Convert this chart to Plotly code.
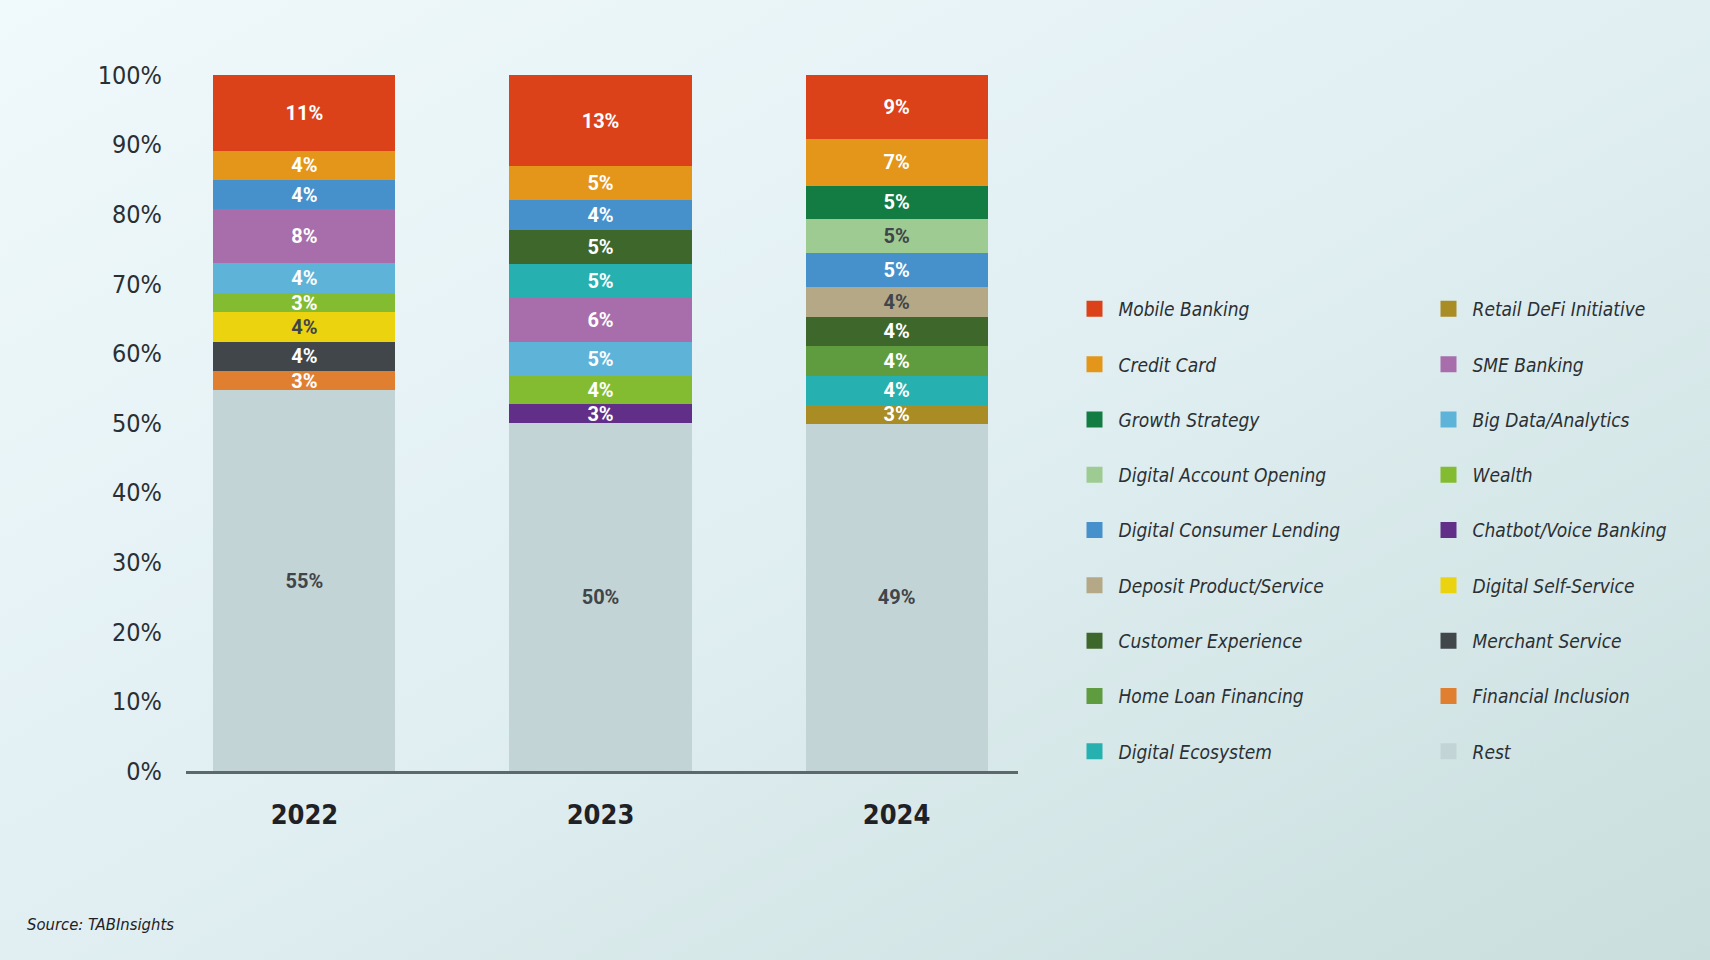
import base64
import plotly.graph_objects as go

# ---------------- data ----------------
years = ["2022", "2023", "2024"]

# series listed bottom-to-top (stacking order)
series = [
    "Rest", "Financial Inclusion", "Merchant Service", "Digital Self-Service",
    "Chatbot/Voice Banking", "Wealth", "Big Data/Analytics", "SME Banking",
    "Retail DeFi Initiative", "Digital Ecosystem", "Home Loan Financing",
    "Customer Experience", "Deposit Product/Service", "Digital Consumer Lending",
    "Digital Account Opening", "Growth Strategy", "Credit Card", "Mobile Banking",
]

# estimated segment sizes (%) per year: 2022, 2023, 2024 (None = not present)
rest = [54.7, 50.0, 49.9]
financial_inclusion = [2.8, None, None]
merchant_service = [4.2, None, None]
digital_self_service = [4.2, None, None]
chatbot_voice = [None, 2.7, None]
wealth = [2.8, 4.1, None]
big_data = [4.3, 4.9, None]
sme_banking = [7.7, 6.3, None]
retail_defi = [None, None, 2.7]
digital_ecosystem = [None, 4.9, 4.2]
home_loan = [None, None, 4.3]
customer_experience = [None, 4.9, 4.2]
deposit_product = [None, None, 4.2]
digital_consumer_lending = [4.2, 4.2, 4.9]
digital_account_opening = [None, None, 4.9]
growth_strategy = [None, None, 4.8]
credit_card = [4.2, 4.9, 6.7]
mobile_banking = [10.9, 13.1, 9.2]

# labels as printed on the chart
rest_lbl = ["55%", "50%", "49%"]
financial_inclusion_lbl = ["3%", "", ""]
merchant_service_lbl = ["4%", "", ""]
digital_self_service_lbl = ["4%", "", ""]
chatbot_voice_lbl = ["", "3%", ""]
wealth_lbl = ["3%", "4%", ""]
big_data_lbl = ["4%", "5%", ""]
sme_banking_lbl = ["8%", "6%", ""]
retail_defi_lbl = ["", "", "3%"]
digital_ecosystem_lbl = ["", "5%", "4%"]
home_loan_lbl = ["", "", "4%"]
customer_experience_lbl = ["", "5%", "4%"]
deposit_product_lbl = ["", "", "4%"]
digital_consumer_lending_lbl = ["4%", "4%", "5%"]
digital_account_opening_lbl = ["", "", "5%"]
growth_strategy_lbl = ["", "", "5%"]
credit_card_lbl = ["4%", "5%", "7%"]
mobile_banking_lbl = ["11%", "13%", "9%"]

y_ticks = [0, 10, 20, 30, 40, 50, 60, 70, 80, 90, 100]
y_tick_labels = ["0%", "10%", "20%", "30%", "40%", "50%", "60%", "70%", "80%", "90%", "100%"]

values = {
    "Rest": rest, "Financial Inclusion": financial_inclusion,
    "Merchant Service": merchant_service, "Digital Self-Service": digital_self_service,
    "Chatbot/Voice Banking": chatbot_voice, "Wealth": wealth,
    "Big Data/Analytics": big_data, "SME Banking": sme_banking,
    "Retail DeFi Initiative": retail_defi, "Digital Ecosystem": digital_ecosystem,
    "Home Loan Financing": home_loan, "Customer Experience": customer_experience,
    "Deposit Product/Service": deposit_product,
    "Digital Consumer Lending": digital_consumer_lending,
    "Digital Account Opening": digital_account_opening,
    "Growth Strategy": growth_strategy, "Credit Card": credit_card,
    "Mobile Banking": mobile_banking,
}
labels = {
    "Rest": rest_lbl, "Financial Inclusion": financial_inclusion_lbl,
    "Merchant Service": merchant_service_lbl, "Digital Self-Service": digital_self_service_lbl,
    "Chatbot/Voice Banking": chatbot_voice_lbl, "Wealth": wealth_lbl,
    "Big Data/Analytics": big_data_lbl, "SME Banking": sme_banking_lbl,
    "Retail DeFi Initiative": retail_defi_lbl, "Digital Ecosystem": digital_ecosystem_lbl,
    "Home Loan Financing": home_loan_lbl, "Customer Experience": customer_experience_lbl,
    "Deposit Product/Service": deposit_product_lbl,
    "Digital Consumer Lending": digital_consumer_lending_lbl,
    "Digital Account Opening": digital_account_opening_lbl,
    "Growth Strategy": growth_strategy_lbl, "Credit Card": credit_card_lbl,
    "Mobile Banking": mobile_banking_lbl,
}

# legend columns (top to bottom)
legend_col1 = ["Mobile Banking", "Credit Card", "Growth Strategy", "Digital Account Opening",
               "Digital Consumer Lending", "Deposit Product/Service", "Customer Experience",
               "Home Loan Financing", "Digital Ecosystem"]
legend_col2 = ["Retail DeFi Initiative", "SME Banking", "Big Data/Analytics", "Wealth",
               "Chatbot/Voice Banking", "Digital Self-Service", "Merchant Service",
               "Financial Inclusion", "Rest"]

# ---------------- style ----------------
colors = {
    "Mobile Banking": "#dc4219", "Credit Card": "#e3961a", "Growth Strategy": "#137c42",
    "Digital Account Opening": "#9ecb92", "Digital Consumer Lending": "#4690cc",
    "Deposit Product/Service": "#b4a886", "Customer Experience": "#3e672c",
    "Home Loan Financing": "#5f9c40", "Digital Ecosystem": "#26b0b0",
    "Retail DeFi Initiative": "#a98c23", "SME Banking": "#a86eab",
    "Big Data/Analytics": "#5eb3d8", "Wealth": "#84bc31",
    "Chatbot/Voice Banking": "#622f88", "Digital Self-Service": "#ecd310",
    "Merchant Service": "#41464b", "Financial Inclusion": "#e07f30", "Rest": "#c3d4d6",
}
dark_text = {"Digital Self-Service", "Digital Account Opening", "Deposit Product/Service", "Rest"}

COND = "DejaVu Sans Condensed, Roboto, sans-serif"

W, H = 1710, 960
L, R, T, B = 186, 1018, 75, 771

fig = go.Figure()
for name in series:
    tcol = "#3f454a" if name in dark_text else "#ffffff"
    fig.add_trace(go.Bar(
        x=years, y=values[name], name=name,
        marker=dict(color=colors[name], line=dict(width=0)),
        text=labels[name], textposition="inside", insidetextanchor="middle",
        textangle=0,
        textfont=dict(family="Roboto", size=20, color=tcol, weight="bold"),
        showlegend=False, hoverinfo="skip",
    ))

# legend entries (square swatches)
for name in series:
    in1 = name in legend_col1
    rank = (legend_col1.index(name) if in1 else legend_col2.index(name)) + 1
    fig.add_trace(go.Scatter(
        x=[years[0]], y=[None], name=name, mode="markers",
        marker=dict(symbol="square", size=16, color=colors[name], line=dict(width=0)),
        legend="legend" if in1 else "legend2",
        legendgroup=name, legendrank=rank, showlegend=True, hoverinfo="skip",
    ))

svg = ("<svg xmlns='http://www.w3.org/2000/svg' width='1710' height='960'>"
       "<defs><linearGradient id='g' x1='0' y1='0' x2='1' y2='1'>"
       "<stop offset='0' stop-color='#f0f9fc'/>"
       "<stop offset='0.5' stop-color='#e1eff2'/>"
       "<stop offset='1' stop-color='#c9dedd'/>"
       "</linearGradient></defs>"
       "<rect width='1710' height='960' fill='url(#g)'/></svg>")
src = "data:image/svg+xml;base64," + base64.b64encode(svg.encode()).decode()

pw, ph = R - L, B - T
legend_font = dict(family=COND, size=19, color="#2b3034", style="italic")

fig.update_layout(
    width=W, height=H, autosize=False,
    margin=dict(l=L, r=W - R, t=T, b=H - B, pad=0),
    paper_bgcolor="#e3f0f2", plot_bgcolor="rgba(0,0,0,0)",
    barmode="stack", bargap=0.385,
    uniformtext=dict(minsize=20, mode="show"),
    showlegend=True,
    legend=dict(xref="container", yref="container", x=1070.5 / W, y=1 - 290 / H,
                xanchor="left", yanchor="top", orientation="v",
                traceorder="grouped", tracegroupgap=27.6, maxheight=700, itemwidth=38,
                bgcolor="rgba(0,0,0,0)", font=legend_font, itemsizing="trace"),
    legend2=dict(xref="container", yref="container", x=1424.5 / W, y=1 - 290 / H,
                 xanchor="left", yanchor="top", orientation="v",
                 traceorder="grouped", tracegroupgap=27.6, maxheight=700, itemwidth=38,
                 bgcolor="rgba(0,0,0,0)", font=legend_font, itemsizing="trace"),
    xaxis=dict(type="category", range=[-0.4, 2.41], showline=True, linecolor="#5d686d",
               linewidth=3, showgrid=False, zeroline=False, ticks="outside", ticklen=18,
               tickcolor="rgba(0,0,0,0)",
               tickfont=dict(family=COND, size=27, color="#1e2226", weight="bold")),
    yaxis=dict(range=[0, 100], tickvals=y_ticks, ticktext=y_tick_labels, showgrid=False,
               zeroline=False, showline=False, ticks="outside", ticklen=18,
               tickcolor="rgba(0,0,0,0)",
               tickfont=dict(family=COND, size=25, color="#2a2f33")),
    images=[dict(source=src, xref="paper", yref="paper", x=-L / pw, y=1 + T / ph,
                 sizex=W / pw, sizey=H / ph, sizing="stretch", xanchor="left",
                 yanchor="top", layer="below")],
    annotations=[dict(text="Source: TABInsights", xref="paper", yref="paper",
                      x=(25 - L) / pw, y=(B - 924) / ph, xanchor="left", yanchor="middle",
                      showarrow=False,
                      font=dict(family=COND, size=16.5, color="#1e2226", style="italic"))],
)

fig.write_html("out.html")
